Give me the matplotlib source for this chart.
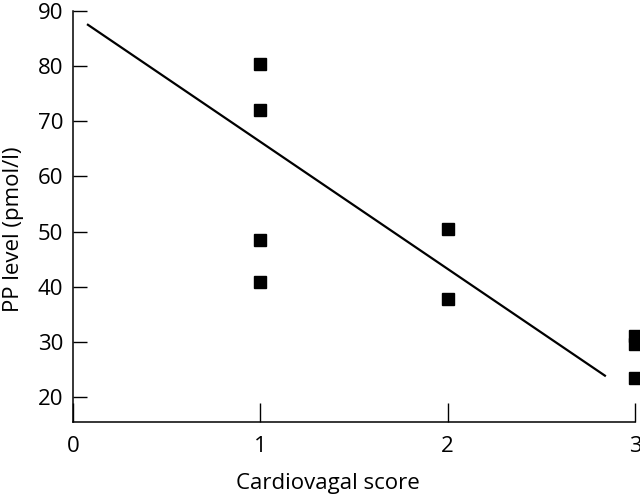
import matplotlib
matplotlib.use('Agg')
from matplotlib import pyplot as plt

plt.rcParams['font.family'] = ['Open Sans', 'DejaVu Sans']

# data
score = [1, 1, 1, 1, 2, 2, 3, 3, 3]
pp_level = [80.4, 72.1, 48.5, 40.8, 50.5, 37.8, 31.1, 29.7, 23.4]

# regression line end points
fit_x = [0.075, 2.845]
fit_y = [87.6, 23.8]

xticks = [0, 1, 2, 3]
yticks = [20, 30, 40, 50, 60, 70, 80, 90]

fig = plt.figure(figsize=(6.4, 4.96), dpi=100)
ax = fig.add_axes([0.114, 0.149, 0.878, 0.829])

ax.plot(fit_x, fit_y, color='black', lw=1.6, solid_capstyle='butt')
ax.plot(score, pp_level, ls='none', marker='s', ms=8, color='black', clip_on=False)

ax.set_xlim(0, 3)
ax.set_ylim(15.5, 90)
ax.set_xticks(xticks)
ax.set_yticks(yticks)
ax.tick_params(direction='in', length=10, width=1, labelsize=16, pad=7)
ax.tick_params(axis='x', length=14, pad=10)

for s in ['top', 'right']:
    ax.spines[s].set_visible(False)
for s in ['left', 'bottom']:
    ax.spines[s].set_linewidth(1.1)

ax.set_xlabel('Cardiovagal score', fontsize=16)
ax.set_ylabel('PP level (pmol/l)', fontsize=16)
ax.xaxis.set_label_coords(0.454, -0.125)
ax.yaxis.set_label_coords(-0.088, 0.47)

fig.savefig('out.png', dpi=100)
